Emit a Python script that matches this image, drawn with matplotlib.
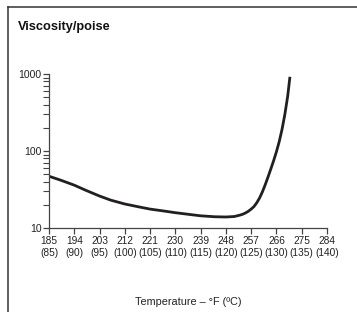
import matplotlib
matplotlib.use("Agg")
import matplotlib.pyplot as plt
from matplotlib.lines import Line2D
from matplotlib.ticker import LogLocator, NullFormatter, FixedLocator, FixedFormatter

plt.rcParams['font.family'] = ['Liberation Sans', 'DejaVu Sans']

temp_f = [185, 189, 194, 198, 203, 207, 212, 217, 221, 226, 230, 235, 239, 244, 246, 248,
          251, 253, 254, 255, 256, 257, 258, 259, 260, 261, 262, 263, 264, 265, 266, 267, 268, 269, 270, 270.8]
viscosity = [47, 42, 36, 31, 26, 23, 20.5, 18.8, 17.6, 16.6, 15.8, 15.0, 14.4, 14.0, 13.95, 13.9,
             14.1, 14.7, 15.1, 15.7, 16.5, 17.6, 19.0, 21.3, 24.6, 29.5, 36.5, 46, 58.5, 75, 98, 133, 192, 300, 515, 920]

xticks_f = [185, 194, 203, 212, 221, 230, 239, 248, 257, 266, 275, 284]
xticks_c = [85, 90, 95, 100, 105, 110, 115, 120, 125, 130, 135, 140]
yticks = [10, 100, 1000]
ytick_labels = ['10', '100', '1000']

title = 'Viscosity/poise'
xlabel = 'Temperature – °F (ºC)'

fig = plt.figure(figsize=(3.57, 3.12), dpi=100)
ax = fig.add_axes([49/357, 1-228/312, (327-49)/357, (228-74)/312])

ink = '#231f20'
ax.plot(temp_f, viscosity, color=ink, lw=2.0, solid_capstyle='butt', solid_joinstyle='round')
ax.set_yscale('log')
ax.set_xlim(185, 284)
ax.set_ylim(10, 1000)

for s in ['top', 'right']:
    ax.spines[s].set_visible(False)
for s in ['left', 'bottom']:
    ax.spines[s].set_color('#444444')
    ax.spines[s].set_linewidth(0.9)

ax.xaxis.set_major_locator(FixedLocator(xticks_f))
ax.xaxis.set_major_formatter(FixedFormatter([f"{f}\n({c})" for f, c in zip(xticks_f, xticks_c)]))
ax.yaxis.set_major_locator(FixedLocator(yticks))
ax.yaxis.set_major_formatter(FixedFormatter(ytick_labels))
ax.yaxis.set_minor_locator(LogLocator(base=10, subs=range(2, 10)))
ax.yaxis.set_minor_formatter(NullFormatter())
ax.tick_params(axis='both', which='major', length=4, width=0.9, color='#444444',
               labelsize=7.3, pad=1.5, labelcolor='#222222')
ax.tick_params(axis='y', which='minor', length=4, width=0.8, color='#444444')
ax.tick_params(axis='y', which='major', labelsize=7.5)
ax.tick_params(axis='x', which='major', pad=2)
for lab in ax.get_xticklabels():
    lab.set_linespacing(1.2)

fig.text(18/357, 1-27/312, title, fontsize=9.2, fontweight='bold', ha='left', va='center', color='#111111')
fig.text(188/357, 1-302/312, xlabel, fontsize=7.8, ha='center', va='center', color='#222222')

# frame border: top and left
fig.add_artist(Line2D([8/357, 1], [1-7/312, 1-7/312], transform=fig.transFigure, color='#333333', lw=1.1))
fig.add_artist(Line2D([8/357, 8/357], [0, 1-7/312], transform=fig.transFigure, color='#333333', lw=1.1))

fig.savefig('out.png', dpi=100)
